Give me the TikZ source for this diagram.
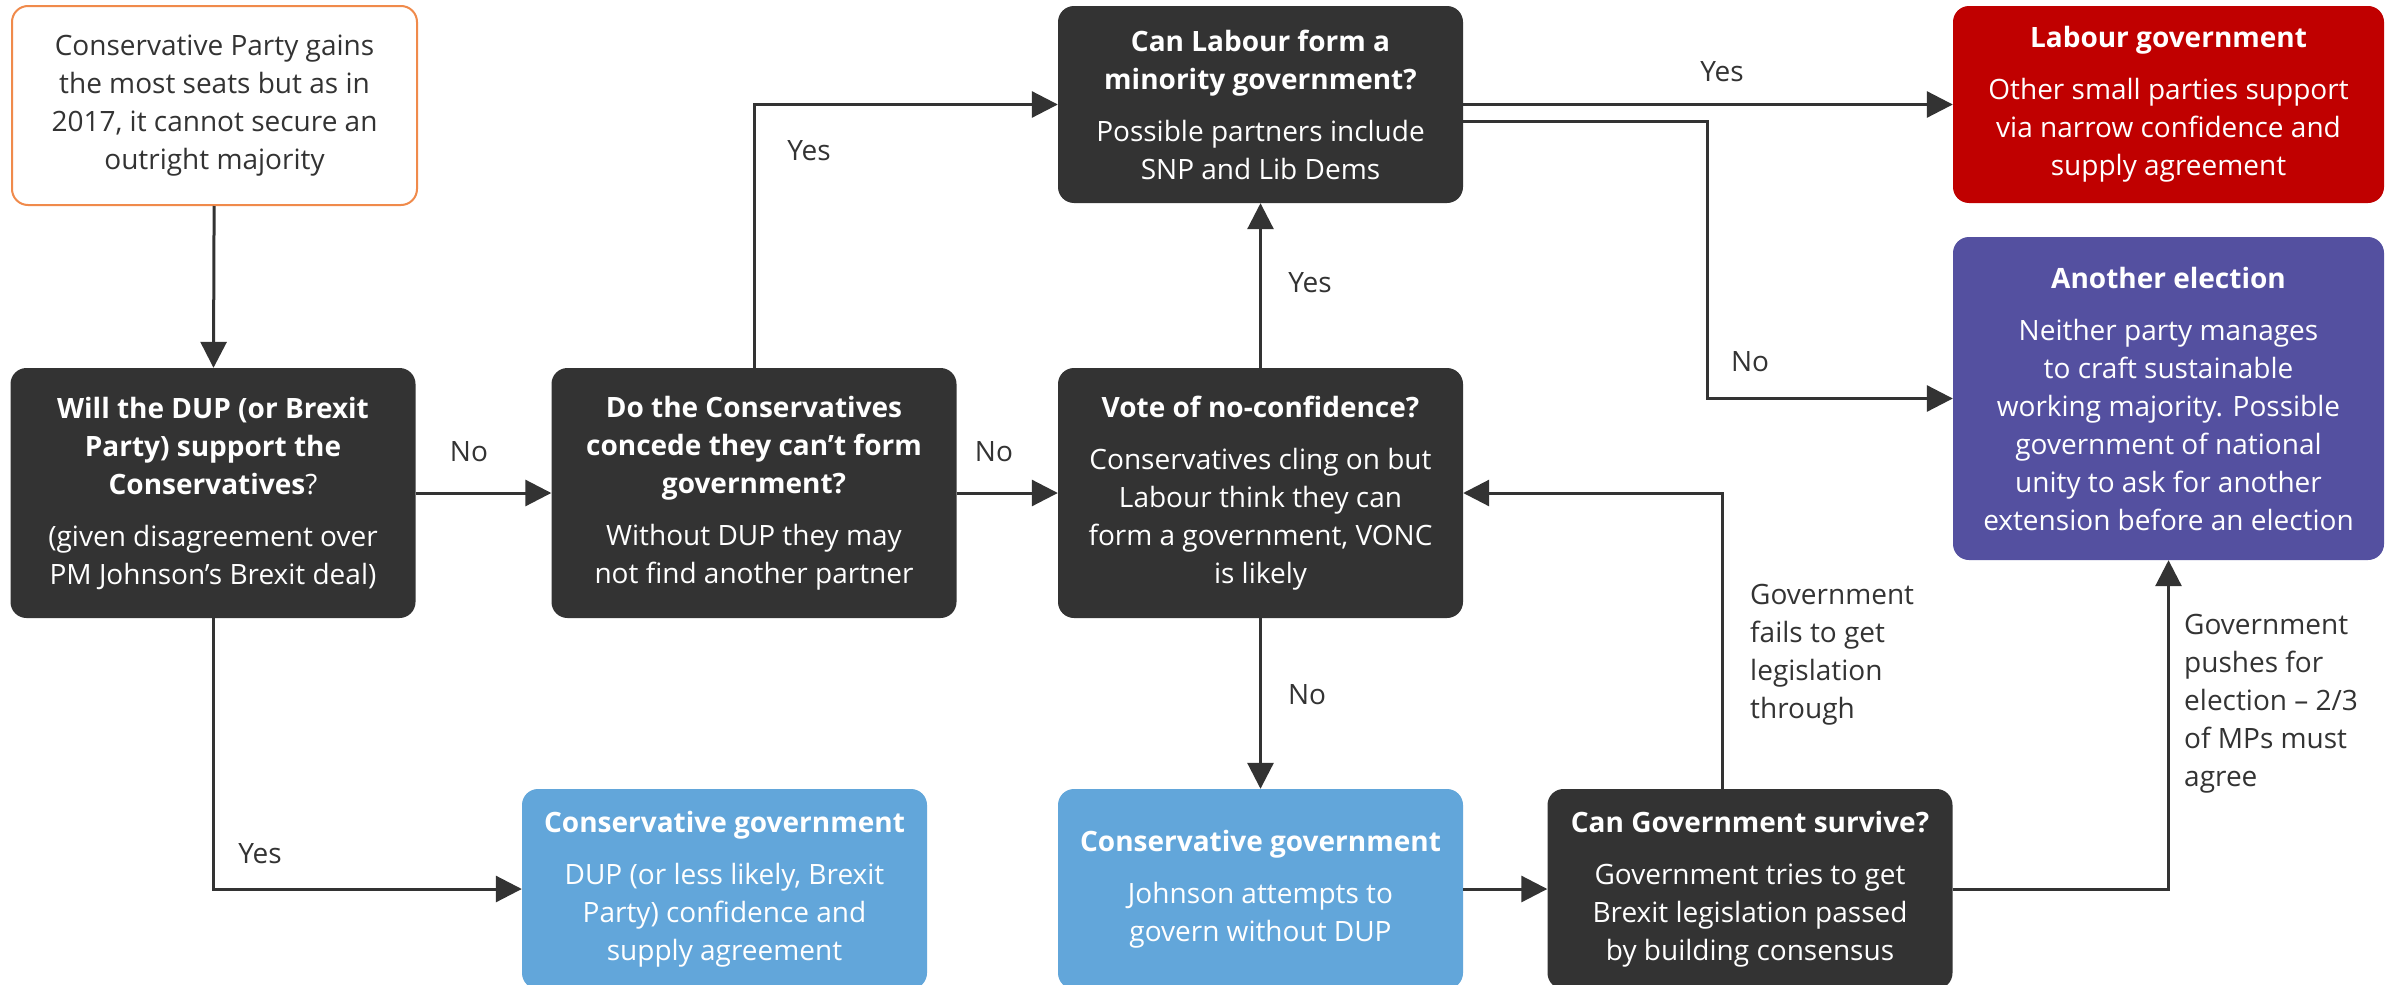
\documentclass[tikz,border=0pt]{standalone}
\usepackage{fontspec}
\setmainfont{Open Sans}
\usetikzlibrary{arrows.meta,calc}
\definecolor{dk}{HTML}{333333}
\definecolor{ingred}{HTML}{C00000}
\definecolor{ingpurple}{HTML}{5450A0}
\definecolor{ingblue}{HTML}{62A6DA}
\definecolor{ingorange}{HTML}{F08A4B}
\begin{document}
\begin{tikzpicture}[x=1pt,y=-1pt,font=\fontsize{28}{38}\selectfont,
  box/.style={rounded corners=16pt,minimum width=405pt,inner sep=0pt,align=center,text=white},
  darkbox/.style={box,fill=dk},
  redbox/.style={box,fill=ingred},
  purplebox/.style={box,fill=ingpurple},
  bluebox/.style={box,fill=ingblue},
  startbox/.style={box,fill=white,draw=ingorange,line width=2pt,text=dk},
  conn/.style={draw=dk,line width=3pt,-{Triangle[length=26pt,width=26pt]}},
  lbl/.style={text=dk,inner sep=0pt,align=left}]
\path[use as bounding box,fill=white] (0,0) rectangle (2394,985);
\begin{scope}
\clip (0,0) rectangle (2394,985);
\node[startbox,minimum height=199pt] (start) at (214.5,105.5)
  {Conservative Party gains\\the most seats but as in\\2017, it cannot secure an\\outright majority};
\node[darkbox,minimum height=250pt] (dup) at (213,493)
  {\textbf{Will the DUP (or Brexit}\\\textbf{Party) support the}\\\textbf{Conservatives}?\\[14pt](given disagreement over\\PM Johnson's Brexit deal)};
\node[darkbox,minimum height=250pt] (concede) at (754,493)
  {\textbf{Do the Conservatives}\\\textbf{concede they can't form}\\\textbf{government?}\\[14pt]Without DUP they may\\not find another partner};
\node[darkbox,minimum height=197pt] (labour) at (1260.5,104.5)
  {\textbf{Can Labour form a}\\\textbf{minority government?}\\[14pt]Possible partners include\\SNP and Lib Dems};
\node[darkbox,minimum height=250pt] (vonc) at (1260.5,493)
  {\textbf{Vote of no-confidence?}\\[14pt]Conservatives cling on but\\Labour think they can\\form a government, VONC\\is likely};
\node[redbox,minimum width=431pt,minimum height=197pt] (labgov) at (2168.5,104.5)
  {\textbf{Labour government}\\[14pt]Other small parties support\\via narrow confidence and\\supply agreement};
\node[purplebox,minimum width=431pt,minimum height=323pt] (elect) at (2168.5,398.5)
  {\textbf{Another election}\\[14pt]Neither party manages\\to craft sustainable\\working majority. Possible\\government of national\\unity to ask for another\\extension before an election};
\node[bluebox,minimum height=200pt] (congov1) at (724.5,889)
  {\textbf{Conservative government}\\[14pt]DUP (or less likely, Brexit\\Party) confidence and\\supply agreement};
\node[bluebox,minimum height=200pt] (congov2) at (1260.5,889)
  {\textbf{Conservative government}\\[14pt]Johnson attempts to\\govern without DUP};
\node[darkbox,minimum height=200pt] (survive) at (1750,889)
  {\textbf{Can Government survive?}\\[14pt]Government tries to get\\Brexit legislation passed\\by building consensus};
\end{scope}
% connectors
\coordinate (c1) at (1707,300);
\draw[conn] (start) -- (dup);
\draw[conn] (dup) -- (concede);
\draw[conn] (dup.south) |- (congov1.west);
\draw[conn] (concede.north) |- (labour.west);
\draw[conn] (concede) -- (vonc);
\draw[conn] (vonc) -- (labour);
\draw[conn] (vonc) -- (congov2);
\draw[conn] (congov2) -- (survive);
\draw[conn] ([xshift=-28pt]survive.north) |- (vonc.east);
\draw[conn] (survive.east) -| (elect.south);
\draw[conn] (labour) -- (labgov);
\draw[conn] ([yshift=-17pt]labour.east) -| (c1) |- (elect.west);
% labels
\node[lbl] (l1) at (469,452) {No};
\node[lbl] (l2) at (260,854) {Yes};
\node[lbl] (l3) at (809,151) {Yes};
\node[lbl] (l4) at (994,452) {No};
\node[lbl] (l5) at (1310,283) {Yes};
\node[lbl] (l6) at (1307,695) {No};
\node[lbl] (l7) at (1722,72) {Yes};
\node[lbl] (l8) at (1750,362) {No};
\node[lbl,anchor=north west] (l9) at (1750,584) {Government\\fails to get\\legislation\\through};
\node[lbl,anchor=north west] (l10) at (2184,614) {Government\\pushes for\\election -- 2/3\\of MPs must\\agree};
\end{tikzpicture}
\end{document}
